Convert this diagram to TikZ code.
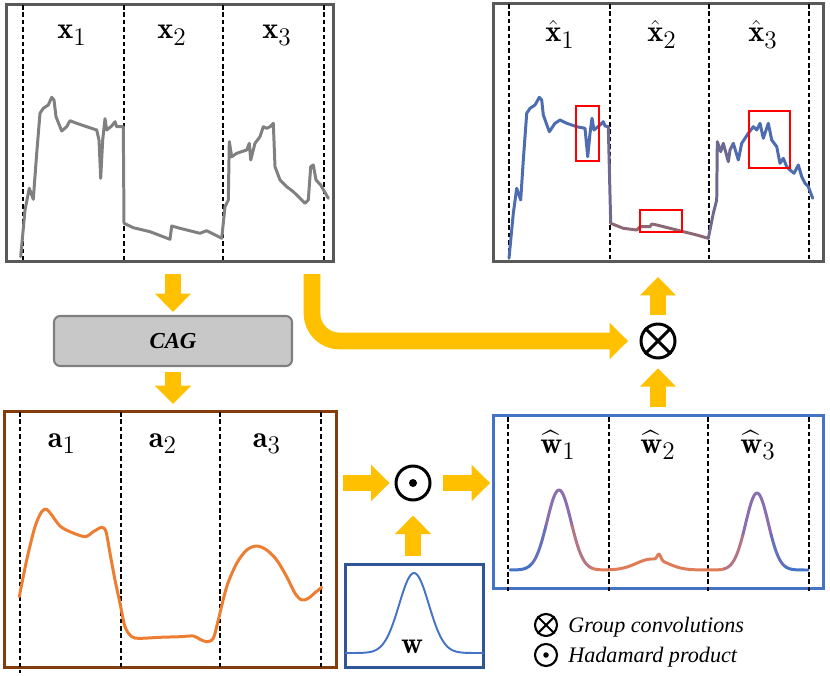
\documentclass[tikz,border=0pt]{standalone}
\usepackage{amsmath}
\usepackage{fontspec}
\newfontfamily\legendfont{Liberation Serif}
\newcommand{\seg}[2]{$#1_{\mbox{\Large #2}}$}
\usetikzlibrary{positioning,arrows.meta,calc}
\definecolor{panelgray}{RGB}{89,89,89}
\definecolor{curvegray}{RGB}{128,128,128}
\definecolor{abrown}{RGB}{132,60,12}
\definecolor{aorange}{RGB}{237,125,49}
\definecolor{hblue}{RGB}{68,114,196}
\definecolor{wdark}{RGB}{47,85,151}
\definecolor{ayellow}{RGB}{255,192,0}
\definecolor{cagfill}{RGB}{200,200,200}
\definecolor{cagdraw}{RGB}{127,127,127}
\definecolor{hxblue}{RGB}{78,108,176}
\definecolor{hxmauve}{RGB}{140,104,116}
\definecolor{whpurple}{RGB}{138,110,176}
\definecolor{whorange}{RGB}{222,124,88}
\tikzset{
  panel/.style={draw=#1,line width=1.7pt,inner sep=0pt},
  divider/.style={black,line width=0.6pt,dash pattern=on 2.6pt off 1.6pt},
  seglabel/.style={anchor=base,font=\LARGE,inner sep=0pt},
  yarrow/.style={draw=ayellow,line width=9.5pt,-{Triangle[width=20pt,length=10.5pt]}},
  opnode/.style={circle,draw=black,line width=1.7pt,minimum size=0.68cm,inner sep=0pt},
  sig/.style={line width=1.7pt,line join=round,line cap=round},
  hilite/.style={draw=red,line width=1.1pt},
  legtext/.style={anchor=base west,inner sep=0pt,font=\legendfont\itshape\fontsize{12.6}{15}\selectfont},
}

\begin{document}
\begin{tikzpicture}[x=0.02cm,y=-0.02cm,
  declare function={wh(\x)=570-80*exp(-((\x-559)/17)^2)-77*exp(-((\x-757)/16)^2)
                    -11*exp(-((\x-652)/22)^2)-6*exp(-((\x-659)/2.5)^2);}]
  \useasboundingbox (0,0) rectangle (830,675);

  % panels
  \node[panel=panelgray,minimum width=6.54cm,minimum height=5.14cm] (xbox) at (170,133) {};
  \node[panel=panelgray,minimum width=6.6cm,minimum height=5.16cm] (xhbox) at (658.5,132.5) {};
  \node[panel=abrown,minimum width=6.64cm,minimum height=5.12cm] (abox) at (170.5,539.5) {};
  \node[panel=hblue,minimum width=6.6cm,minimum height=3.46cm] (whbox) at (658.5,502) {};
  \node[panel=wdark,minimum width=2.76cm,minimum height=2.06cm] (wbox) at (414.5,616) {};
  \node[draw=cagdraw,fill=cagfill,line width=1.2pt,rounded corners=3.5pt,
        minimum width=4.76cm,minimum height=1cm,
        font=\legendfont\bfseries\itshape\fontsize{13}{15}\selectfont] (cag) at (173,341) {CAG};

  % dividers
  \draw[divider] (23,5) -- (23,262) (124,5) -- (124,262) (223,5) -- (223,262) (324,5) -- (324,262);
  \draw[divider] (509,4) -- (509,262) (610,4) -- (610,262) (709,4) -- (709,262) (809,4) -- (809,262);
  \draw[divider] (20,412) -- (20,673) (121,412) -- (121,668) (220,412) -- (220,668) (321,412) -- (321,668);
  \draw[divider] (508,417) -- (508,593) (609,417) -- (609,593) (708,417) -- (708,593) (809,417) -- (809,593);

  % segment labels
  \node[seglabel] (x1) at (72,39) {\seg{\mathbf{x}}{1}};
  \node[seglabel] (x2) at (172,39) {\seg{\mathbf{x}}{2}};
  \node[seglabel] (x3) at (277,39) {\seg{\mathbf{x}}{3}};
  \node[seglabel] (xh1) at (560,42) {\seg{\hat{\mathbf{x}}}{1}};
  \node[seglabel] (xh2) at (662,42) {\seg{\hat{\mathbf{x}}}{2}};
  \node[seglabel] (xh3) at (763,42) {\seg{\hat{\mathbf{x}}}{3}};
  \node[seglabel] (a1) at (62,447) {\seg{\mathbf{a}}{1}};
  \node[seglabel] (a2) at (163,447) {\seg{\mathbf{a}}{2}};
  \node[seglabel] (a3) at (267,447) {\seg{\mathbf{a}}{3}};
  \node[seglabel] (wh1) at (558,453) {\seg{\widehat{\mathbf{w}}}{1}};
  \node[seglabel] (wh2) at (658,453) {\seg{\widehat{\mathbf{w}}}{2}};
  \node[seglabel] (wh3) at (758,453) {\seg{\widehat{\mathbf{w}}}{3}};

  % input series
  \draw[sig,curvegray] (20.7,256.7) -- (25,210) -- (29.3,188.3) -- (33.3,199.3) -- (36.7,153.3)
    -- (40,113.3) -- (43.3,108.3) -- (48.3,105) -- (51.7,97.3) -- (54,100) -- (56,116.7)
    -- (61.7,131) -- (66.7,126.7) -- (70,120.7) -- (76.7,123.3) -- (86.7,126.7) -- (96.7,130)
    -- (99,140) -- (100.7,178.3) -- (102.7,140) -- (105,118.7) -- (106.7,130) -- (111.7,126)
    -- (115,121.7) -- (116.7,126.7) -- (123.3,126.7) -- (124,223.3) -- (133.3,227.7)
    -- (150,231.7) -- (170,239.3) -- (171.7,226) -- (180,228.3) -- (200,233.3) -- (206.7,230.7)
    -- (221.7,238.3) -- (225,206.7) -- (228.3,200) -- (229.3,141.7) -- (231.7,156.7)
    -- (236.7,153.3) -- (246.7,150) -- (249.3,143.3) -- (250.7,160) -- (255,143.3) -- (260,136.7)
    -- (263.3,126.7) -- (266.7,128.3) -- (270,126.7) -- (273.3,123.3) -- (275,166.7) -- (280,180)
    -- (286.7,186.7) -- (293.3,191.7) -- (300,198.3) -- (305,203.3) -- (308.3,200) -- (310.7,166.7)
    -- (313.3,165) -- (316,180) -- (320.7,185) -- (328.3,198.3);

  % reconstructed series
  \draw[sig,hxblue] (509,258.3) -- (513.3,213.3) -- (516.7,188.3) -- (520.7,200) -- (523.3,160)
    -- (526.7,113.3) -- (530,108.3) -- (535,105) -- (539.3,97.3) -- (541.7,100) -- (543.3,115)
    -- (549.3,131.7) -- (555,123.3) -- (560,120) -- (566.7,123.3) -- (576.7,126.7) -- (585,128.3)
    -- (587.7,156.7) -- (590,133.3) -- (592,118.3) -- (594,130) -- (600,125) -- (603.3,121.7)
    -- (605,126) -- (608.3,126.7);
  \draw[sig,hxblue!50!hxmauve] (608.3,126.7) -- (610.7,223.3);
  \draw[sig,hxmauve] (610.7,223.3) -- (623.3,228.3) -- (636.7,230) -- (640,226.7) -- (650,226.7)
    -- (651.7,224) -- (656.7,225) -- (670,228.3) -- (683.3,231.7) -- (690,233.3) -- (696.7,235)
    -- (708.3,238.3);
  \draw[sig,hxblue!50!hxmauve] (708.3,238.3) -- (713.3,213.3) -- (716.7,200) -- (717.3,141.7)
    -- (720.7,151.7) -- (723.3,143.3) -- (728.3,161.7) -- (730,150) -- (733.3,143.3);
  \draw[sig,hxblue] (733.3,143.3) -- (738.3,160) -- (741.7,143.3) -- (748.3,133.3) -- (753.3,126.7)
    -- (756.7,130) -- (760,123.3) -- (763.3,138.3) -- (768.3,123.3) -- (771.7,140) -- (776.7,146.7)
    -- (780,163.3) -- (783.3,158.3) -- (786.7,166.7) -- (790,170) -- (794,173.3) -- (798.3,165)
    -- (801.7,176.7) -- (805,183.3) -- (808.3,186.7) -- (812.7,198.3);
  \draw[hilite] (576,106) rectangle (599,161);
  \draw[hilite] (640,210) rectangle (682,232);
  \draw[hilite] (749,111) rectangle (790,168);

  % attention series
  \draw[sig,aorange] plot[smooth,tension=0.5] coordinates {(19.3,596.7) (26.7,560) (35,526.7)
    (41.7,511.7) (46.7,509.3) (51.7,515) (60,526) (70,531.7) (85,536.7) (93.3,531.7)
    (101.7,527.3) (106,531.7) (110,553.3) (115,580) (120,603.3) (125,626.7) (131.7,636.7)
    (140,638.3) (160,637.3) (180,636.7) (193.3,636) (200,639.3) (206.7,641.7) (213.3,638.3)
    (218.3,620) (226.7,586.7) (236.7,563.3) (246.7,550) (256.7,546) (266.7,550) (276.7,560)
    (286.7,576.7) (295,593.3) (301.7,600) (308.3,598.3) (315,592.7) (321.7,587.3)};

  % kernel and weights
  \draw[line width=1.1pt,hblue] plot[domain=345:484,samples=90] (\x,{653-80*exp(-((\x-414)/21)^2)});
  \node[seglabel] (wlab) at (412,653) {$\mathbf{w}$};
  \draw[sig,hblue] plot[domain=510:532,samples=8] (\x,{wh(\x)});
  \draw[sig,hblue!50!whpurple] plot[domain=532:546,samples=8] (\x,{wh(\x)});
  \draw[sig,whpurple] plot[domain=546:572,samples=24] (\x,{wh(\x)});
  \draw[sig,whpurple!50!whorange] plot[domain=572:592,samples=12] (\x,{wh(\x)});
  \draw[sig,whorange] plot[domain=592:724,samples=140] (\x,{wh(\x)});
  \draw[sig,whpurple!50!whorange] plot[domain=724:743,samples=12] (\x,{wh(\x)});
  \draw[sig,whpurple] plot[domain=743:771,samples=24] (\x,{wh(\x)});
  \draw[sig,hblue!50!whpurple] plot[domain=771:786,samples=10] (\x,{wh(\x)});
  \draw[sig,hblue] plot[domain=786:808,samples=8] (\x,{wh(\x)});

  % operators
  \node[opnode] (gconv) at (658,341) {};
  \draw[line width=1.7pt] (gconv.north west) -- (gconv.south east) (gconv.north east) -- (gconv.south west);
  \node[opnode] (hprod) at (413,483) {};
  \fill (hprod) circle (0.08cm);

  % flow
  \coordinate (skip) at (312,274);
  \draw[yarrow,shorten <=6pt,shorten >=1.7pt] (xbox.south -| cag) -- (cag);
  \draw[yarrow,shorten <=2.8pt,shorten >=3.4pt] (cag) -- (abox.north -| cag);
  \draw[yarrow,shorten <=2.8pt,shorten >=2.8pt] (abox.east |- hprod) -- (hprod);
  \draw[yarrow,shorten <=6.8pt,shorten >=1.1pt] (hprod) -- (hprod -| whbox.west);
  \draw[yarrow,shorten <=4pt,shorten >=8pt] (hprod |- wbox.north) -- (hprod);
  \draw[yarrow,shorten <=4pt,shorten >=5pt] (gconv |- whbox.north) -- (gconv);
  \draw[yarrow,shorten <=4.5pt,shorten >=8pt] (gconv) -- (gconv |- xhbox.south);
  \draw[yarrow,rounded corners=0.55cm,shorten >=6.5pt] (skip) |- (gconv);

  % legend
  \node[opnode,minimum size=0.44cm,line width=1.2pt] (lgconv) at (546,625) {};
  \draw[line width=1.2pt] (lgconv.north west) -- (lgconv.south east) (lgconv.north east) -- (lgconv.south west);
  \node[opnode,minimum size=0.44cm,line width=1.2pt] (lhprod) at (546,655) {};
  \fill (lhprod) circle (0.055cm);
  \node[legtext] (lgtext) at (568,632) {Group convolutions};
  \node[legtext] (lhtext) at (568,662) {Hadamard product};
\end{tikzpicture}
\end{document}
